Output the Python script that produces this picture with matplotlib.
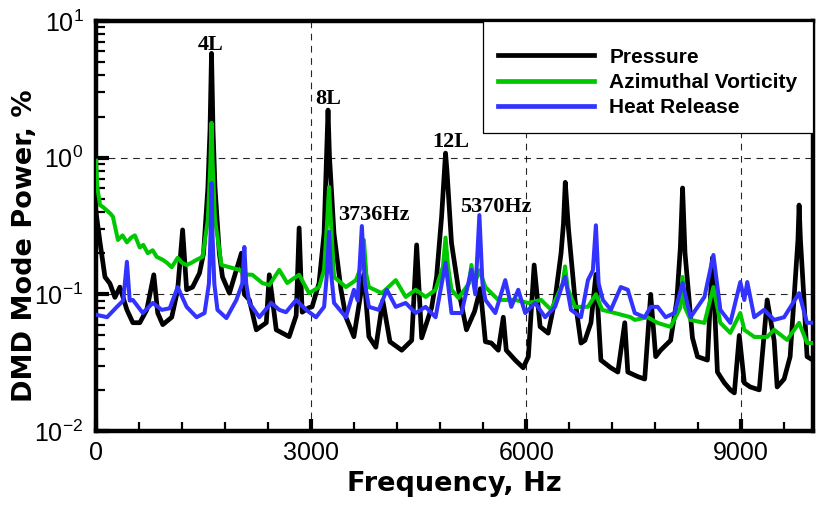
import matplotlib
matplotlib.use("Agg")
import matplotlib.pyplot as plt
from matplotlib.ticker import FixedLocator, LogLocator, NullFormatter

# ---------------- data ----------------
p_freq = [0, 56, 125, 194, 264, 333, 431, 514, 611, 708, 806, 861, 931, 1056, 1139, 1208,
          1264, 1347, 1444, 1500, 1560, 1590, 1611, 1632, 1660, 1720, 1764, 1861, 1958, 2028,
          2069, 2139, 2236, 2375, 2417, 2514, 2694, 2792, 2833, 2875, 2972, 3014, 3111, 3181,
          3215, 3236, 3257, 3319, 3417, 3486, 3597, 3736, 3806, 3903, 4000, 4100, 4264, 4403,
          4472, 4542, 4681, 4750, 4820, 4860, 4875, 4895, 4958, 5056, 5167, 5280, 5360, 5431,
          5514, 5611, 5681, 5722, 5847, 5958, 6030, 6111, 6194, 6306, 6400, 6486, 6520, 6545,
          6590, 6681, 6764, 6819, 6903, 6972, 7042, 7181, 7278, 7375, 7417, 7556, 7653, 7736,
          7806, 7875, 8014, 8100, 8150, 8181, 8215, 8319, 8389, 8528, 8597, 8667, 8764, 8847,
          8903, 8972, 9042, 9125, 9250, 9361, 9458, 9500, 9597, 9681, 9750, 9790, 9806, 9825,
          9870, 9917, 10000]
p_power = [0.40, 0.24, 0.134, 0.12, 0.095, 0.113, 0.077, 0.062, 0.062, 0.077, 0.139, 0.073, 0.06,
           0.068, 0.108, 0.296, 0.108, 0.113, 0.143, 0.2, 0.6, 1.6, 5.8, 1.6, 0.6, 0.2, 0.134,
           0.102, 0.151, 0.2, 0.1, 0.091, 0.055, 0.062, 0.139, 0.055, 0.049, 0.07, 0.306, 0.074,
           0.08, 0.081, 0.121, 0.28, 1.0, 2.23, 1.0, 0.28, 0.108, 0.068, 0.049, 0.14, 0.049,
           0.041, 0.09, 0.045, 0.039, 0.046, 0.23, 0.048, 0.08, 0.134, 0.37, 0.8, 1.08, 0.8,
           0.238, 0.108, 0.055, 0.075, 0.11, 0.045, 0.044, 0.039, 0.068, 0.039, 0.033, 0.029,
           0.035, 0.164, 0.058, 0.052, 0.09, 0.2, 0.33, 0.66, 0.3, 0.091, 0.044, 0.046, 0.062,
           0.14, 0.033, 0.029, 0.027, 0.062, 0.027, 0.025, 0.024, 0.1, 0.035, 0.039, 0.046, 0.09,
           0.22, 0.6, 0.2, 0.048, 0.035, 0.033, 0.185, 0.027, 0.0225, 0.02, 0.019, 0.05, 0.0225,
           0.021, 0.02, 0.091, 0.046, 0.021, 0.024, 0.035, 0.12, 0.25, 0.45, 0.25, 0.1, 0.035,
           0.033]

v_freq = [0, 20, 56, 110, 153, 200, 236, 306, 370, 431, 490, 542, 611, 660, 722, 790, 847, 931,
          990, 1056, 1139, 1200, 1264, 1330, 1403, 1486, 1560, 1595, 1611, 1627, 1660, 1750,
          1861, 2000, 2069, 2181, 2319, 2417, 2556, 2667, 2750, 2833, 2972, 3111, 3181, 3225,
          3250, 3275, 3320, 3486, 3625, 3700, 3736, 3770, 3806, 3986, 4181, 4319, 4458, 4597,
          4736, 4840, 4875, 4910, 4958, 5056, 5200, 5236, 5280, 5347, 5431, 5611, 5847, 6028,
          6208, 6347, 6510, 6542, 6580, 6681, 6861, 6972, 7060, 7236, 7458, 7514, 7694, 7833,
          8014, 8150, 8181, 8215, 8292, 8486, 8611, 8708, 8847, 8986, 9042, 9181, 9361, 9458,
          9639, 9806, 9917, 10000]
v_power = [0.95, 0.6, 0.45, 0.43, 0.41, 0.39, 0.37, 0.25, 0.27, 0.24, 0.26, 0.27, 0.22, 0.23,
           0.2, 0.21, 0.188, 0.179, 0.17, 0.158, 0.185, 0.17, 0.164, 0.17, 0.179, 0.188, 0.35,
           0.9, 1.8, 0.9, 0.35, 0.164, 0.158, 0.151, 0.14, 0.139, 0.121, 0.117, 0.151, 0.121,
           0.13, 0.139, 0.102, 0.113, 0.151, 0.35, 0.61, 0.35, 0.134, 0.113, 0.127, 0.16, 0.25,
           0.14, 0.113, 0.102, 0.127, 0.0957, 0.108, 0.0957, 0.108, 0.16, 0.26, 0.16, 0.108,
           0.094, 0.12, 0.164, 0.12, 0.15, 0.113, 0.091, 0.091, 0.0865, 0.091, 0.077, 0.12,
           0.16, 0.11, 0.081, 0.081, 0.1, 0.077, 0.073, 0.068, 0.065, 0.068, 0.0618, 0.0578,
           0.08, 0.134, 0.08, 0.065, 0.0618, 0.113, 0.0618, 0.0522, 0.073, 0.055, 0.0488,
           0.0488, 0.055, 0.0464, 0.0618, 0.0441, 0.044]

h_freq = [0, 153, 292, 380, 431, 470, 514, 653, 792, 917, 1028, 1139, 1264, 1403, 1514, 1575,
          1600, 1611, 1622, 1650, 1694, 1819, 1958, 2040, 2069, 2095, 2139, 2278, 2444, 2556,
          2650, 2792, 2931, 3069, 3181, 3225, 3250, 3275, 3320, 3486, 3597, 3650, 3708, 3750,
          3806, 3944, 4056, 4181, 4319, 4458, 4597, 4736, 4875, 4958, 5097, 5236, 5290, 5347,
          5390, 5431, 5569, 5708, 5792, 5889, 5986, 6125, 6264, 6403, 6542, 6625, 6764, 6861,
          6930, 6972, 7010, 7069, 7181, 7319, 7417, 7514, 7653, 7736, 7833, 7944, 8069, 8181,
          8292, 8486, 8611, 8708, 8847, 8986, 9042, 9083, 9181, 9319, 9458, 9597, 9806, 9917,
          10000]
h_power = [0.071, 0.068, 0.081, 0.09, 0.173, 0.09, 0.091, 0.073, 0.0865, 0.077, 0.079, 0.113,
           0.081, 0.068, 0.073, 0.12, 0.3, 0.65, 0.3, 0.12, 0.077, 0.067, 0.091, 0.12, 0.222,
           0.12, 0.0865, 0.068, 0.0865, 0.077, 0.074, 0.091, 0.077, 0.068, 0.081, 0.15, 0.286,
           0.15, 0.0865, 0.068, 0.108, 0.09, 0.316, 0.12, 0.081, 0.077, 0.108, 0.081, 0.0865,
           0.073, 0.081, 0.068, 0.17, 0.073, 0.073, 0.151, 0.1, 0.38, 0.12, 0.091, 0.073, 0.127,
           0.081, 0.108, 0.073, 0.0865, 0.068, 0.081, 0.134, 0.077, 0.068, 0.127, 0.15, 0.32,
           0.12, 0.091, 0.077, 0.113, 0.108, 0.073, 0.068, 0.081, 0.081, 0.068, 0.073, 0.121,
           0.068, 0.0957, 0.194, 0.077, 0.0618, 0.123, 0.091, 0.123, 0.068, 0.077, 0.065, 0.068,
           0.102, 0.0618, 0.062]

series_labels = ["Pressure", "Azimuthal Vorticity", "Heat Release"]
x_ticks = [0, 3000, 6000, 9000]
annotations = [("4L", 1597, 6.14, "center"), ("8L", 3243, 2.47, "center"),
               ("12L", 4944, 1.2, "center"), ("3736Hz", 3375, 0.35, "left"),
               ("5370Hz", 5083, 0.40, "left")]

# ---------------- figure ----------------
plt.rcParams['font.family'] = ['Liberation Sans', 'DejaVu Sans']
plt.rcParams['mathtext.default'] = 'regular'
plt.rcParams['axes.unicode_minus'] = False

fig = plt.figure(figsize=(8.17, 5.08), dpi=100)
ax = fig.add_axes([96 / 817, 1 - 431 / 508, (813 - 96) / 817, (431 - 21) / 508])

ax.plot(p_freq, p_power, color='black', lw=3.4, label=series_labels[0], zorder=3)
ax.plot(v_freq, v_power, color='#00c800', lw=2.9, label=series_labels[1], zorder=4)
ax.plot(h_freq, h_power, color='#3333ff', lw=2.9, label=series_labels[2], zorder=5)

ax.set_yscale('log')
ax.set_xlim(0, 10000)
ax.set_ylim(1e-2, 1e1)

ax.xaxis.set_major_locator(FixedLocator(x_ticks))
ax.xaxis.set_minor_locator(FixedLocator([v for v in range(0, 10001, 600) if v % 3000 != 0]))
ax.yaxis.set_major_locator(LogLocator(base=10, numticks=10))
ax.yaxis.set_minor_locator(LogLocator(base=10, subs=range(2, 10), numticks=20))
ax.yaxis.set_minor_formatter(NullFormatter())

ax.tick_params(axis='both', which='major', direction='in', length=9, width=3,
               labelsize=18, top=False, right=False)
ax.tick_params(axis='both', which='minor', direction='in', length=6.5, width=1.6,
               top=False, right=False)
ax.tick_params(axis='x', which='major', pad=7)
ax.tick_params(axis='y', which='major', pad=9)

for s in ax.spines.values():
    s.set_linewidth(3.2)

ax.grid(True, which='major', color='black', lw=0.8, ls=(0, (6, 5)), alpha=0.85)
ax.set_axisbelow(True)

ax.set_xlabel("Frequency, Hz", fontsize=19.5, fontweight='bold', family='DejaVu Sans')
ax.xaxis.set_label_coords(0.5, -0.098)
ax.set_ylabel("DMD Mode Power, %", fontsize=19.5, fontweight='bold', family='DejaVu Sans')
ax.yaxis.set_label_coords(-0.081, 0.452)

for txt, fx, fy, ha in annotations:
    ax.text(fx, fy, txt, ha=ha, va='baseline', fontsize=16, fontweight='bold',
            family='Liberation Serif', zorder=6)

leg = ax.legend(loc='upper right', bbox_to_anchor=(1.0, 1.0), borderaxespad=0,
                prop={'weight': 'bold', 'size': 15}, frameon=True,
                fancybox=False, framealpha=1, edgecolor='black', handlelength=4.6,
                handletextpad=0.75, borderpad=0.74, labelspacing=0.3,
                title=' ', title_fontsize=3.5)
leg.get_frame().set_linewidth(0.9)
leg.set_zorder(10)
for line in leg.get_lines():
    line.set_linewidth(3.4)

fig.savefig("out.png", dpi=100)
